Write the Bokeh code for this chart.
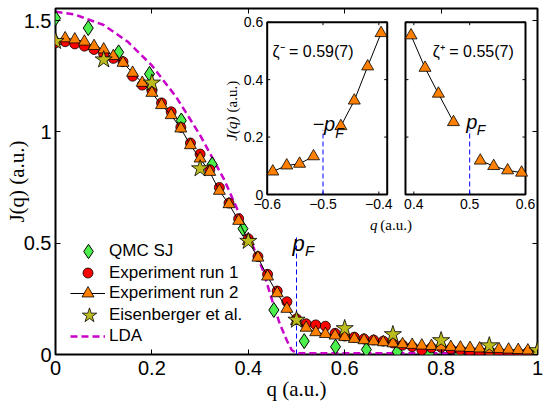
import math
from bokeh.plotting import figure
from bokeh.models import Range1d, LinearAxis, FixedTicker, Legend, LegendItem, Label
from bokeh.embed import file_html
from bokeh.resources import INLINE

# ---------------- main data ----------------
q_exp = [0.00, 0.02, 0.04, 0.06, 0.08, 0.10, 0.12, 0.14, 0.16, 0.18,
         0.20, 0.22, 0.24, 0.26, 0.28, 0.30, 0.32, 0.34, 0.36, 0.38,
         0.40, 0.42, 0.44, 0.46, 0.48, 0.50, 0.52, 0.54, 0.56, 0.58,
         0.60, 0.62, 0.64, 0.66, 0.68, 0.70, 0.72, 0.74, 0.76, 0.78,
         0.80, 0.82, 0.84, 0.86, 0.88, 0.90, 0.92, 0.94, 0.96, 0.98, 1.00]
J_run1 = [1.400, 1.405, 1.395, 1.385, 1.370, 1.350, 1.330, 1.315, 1.250, 1.210,
          1.185, 1.130, 1.090, 1.020, 0.950, 0.900, 0.830, 0.750, 0.680, 0.610,
          0.520, 0.440, 0.360, 0.285, 0.237, 0.160, 0.138, 0.133, 0.127, 0.095,
          0.083, 0.078, 0.070, 0.065, 0.060, 0.052, 0.042, 0.035, 0.020, 0.030,
          0.032, 0.025, 0.020, 0.015, 0.010, 0.015, 0.008, 0.005, 0.008, 0.010, 0.010]
J_run2 = [1.410, 1.420, 1.415, 1.405, 1.385, 1.370, 1.340, 1.310, 1.265, 1.220,
          1.175, 1.120, 1.075, 1.015, 0.940, 0.880, 0.820, 0.735, 0.675, 0.600,
          0.510, 0.435, 0.350, 0.275, 0.205, 0.150, 0.120, 0.100, 0.092, 0.085,
          0.078, 0.070, 0.064, 0.059, 0.055, 0.050, 0.046, 0.043, 0.040, 0.038,
          0.036, 0.034, 0.031, 0.029, 0.027, 0.025, 0.024, 0.022, 0.020, 0.018, 0.016]
q_qmc = [0.000, 0.068, 0.131, 0.195, 0.261, 0.325, 0.389, 0.453,
         0.516, 0.581, 0.645, 0.709, 0.775, 0.838, 0.902]
J_qmc = [1.510, 1.466, 1.357, 1.260, 1.051, 0.854, 0.565, 0.200,
         0.060, 0.035, 0.022, 0.012, 0.005, 0.002, 0.001]
q_eis = [0.00, 0.10, 0.20, 0.30, 0.40, 0.50, 0.60, 0.70, 0.80, 0.90, 1.00]
J_eis = [1.407, 1.324, 1.220, 0.835, 0.509, 0.155, 0.117, 0.090, 0.063, 0.040, 0.018]
q_lda = [0.00, 0.04, 0.10, 0.15, 0.20, 0.25, 0.30, 0.35, 0.39, 0.43,
         0.45, 0.465, 0.48, 0.49, 0.50, 0.60, 0.70, 0.80, 0.90, 1.00]
J_lda = [1.540, 1.527, 1.480, 1.405, 1.298, 1.158, 0.985, 0.785, 0.590, 0.380,
         0.240, 0.140, 0.063, 0.020, 0.006, 0.006, 0.006, 0.006, 0.006, 0.006]
p_F = 0.5
pf_line_top = 0.53

x_ticks = [0, 0.2, 0.4, 0.6, 0.8, 1.0]
x_tick_labels = ["0", "0.2", "0.4", "0.6", "0.8", "1"]
y_ticks = [0, 0.5, 1.0, 1.5]
y_tick_labels = ["0", "0.5", "1", "1.5"]
series_labels = ["QMC SJ", "Experiment run 1", "Experiment run 2", "Eisenberger et al.", "LDA"]

# ---------------- inset data ----------------
qL_a = [-0.590, -0.565, -0.542, -0.517]
JL_a = [0.080, 0.101, 0.107, 0.133]
qL_b = [-0.468, -0.444, -0.420, -0.396]
JL_b = [0.238, 0.327, 0.446, 0.562]
qR_a = [0.395, 0.420, 0.444, 0.471]
JR_a = [0.554, 0.441, 0.351, 0.252]
qR_b = [0.519, 0.543, 0.568, 0.593]
JR_b = [0.118, 0.099, 0.084, 0.076]
inset_pf_top = 0.225
inset_y_ticks = [0, 0.2, 0.4, 0.6]
inset_y_tick_labels = ["0", "0.2", "0.4", "0.6"]
inset_L_ticks = [-0.6, -0.5, -0.4]
inset_L_tick_labels = ["\u22120.6", "\u22120.5", "\u22120.4"]
inset_R_ticks = [0.4, 0.5, 0.6]
inset_R_tick_labels = ["0.4", "0.5", "0.6"]
zeta_minus = "\u03b6\u207b = 0.59(7)"
zeta_plus = "\u03b6\u207a = 0.55(7)"

# ---------------- layout / style ----------------
W, H = 548, 405
BL, BR, BT, BB = 55, 11, 8, 51
X_RANGE = (0.0, 1.0)
Y_RANGE = (0.0, 1.554)
BOX_L = (0.4392, 0.6882)     # inset boxes in main-data units
BOX_R = (0.7261, 0.9751)
BOX_Y = (0.7186, 1.4925)
INSET_XL = (-0.6, -0.385)
INSET_XR = (0.385, 0.6)
INSET_Y = (0.0, 0.6)

ORANGE = "#ff8000"
RED = "#ff0000"
GREEN = "#4cf04c"
OLIVE = "#bcbc1e"
MAG = "#c800c8"
SANS = "Liberation Sans"
SERIF = "Liberation Serif"


def map_range(inner, box, outer):
    s = (inner[1] - inner[0]) / (box[1] - box[0])
    return Range1d(start=inner[0] - (box[0] - outer[0]) * s,
                   end=inner[0] + (outer[1] - box[0]) * s)


p = figure(width=W, height=H, x_range=Range1d(*X_RANGE), y_range=Range1d(*Y_RANGE),
           output_backend="svg", toolbar_location=None,
           min_border_left=BL, min_border_right=BR, min_border_top=BT, min_border_bottom=BB)
p.xgrid.visible = False
p.ygrid.visible = False
p.outline_line_color = "black"
p.outline_line_width = 2
p.background_fill_color = "white"
p.border_fill_color = "white"

p.extra_x_ranges = {"lx": map_range(INSET_XL, BOX_L, X_RANGE),
                    "rx": map_range(INSET_XR, BOX_R, X_RANGE)}
p.extra_y_ranges = {"iy": map_range(INSET_Y, BOX_Y, Y_RANGE)}

xa = p.below[0]
xa.ticker = FixedTicker(ticks=x_ticks)
xa.major_label_overrides = {t: s for t, s in zip(x_ticks, x_tick_labels)}
xa.axis_label = "q (a.u.)"
xa.axis_label_standoff = -1
ya = p.left[0]
ya.ticker = FixedTicker(ticks=y_ticks)
ya.major_label_overrides = {t: s for t, s in zip(y_ticks, y_tick_labels)}
ya.axis_label = "J(q) (a.u.)"
ya.axis_label_standoff = -8
for ax, so in ((xa, 6), (ya, 4)):
    ax.major_label_text_font = SANS
    ax.major_label_text_font_size = "20px"
    ax.major_label_text_color = "black"
    ax.major_label_standoff = so
    ax.major_tick_in = 5
    ax.major_tick_out = 0
    ax.major_tick_line_color = "black"
    ax.minor_tick_line_color = None
    ax.axis_line_color = None
    ax.axis_label_text_font = SERIF
    ax.axis_label_text_font_size = "21px"
    ax.axis_label_text_font_style = "normal"
    ax.axis_label_text_color = "black"

for ticks, side in ((x_ticks, "above"), (y_ticks, "right")):
    ax = LinearAxis(ticker=FixedTicker(ticks=ticks),
                    major_label_overrides={t: "" for t in ticks},
                    major_label_text_font_size="0px", major_label_standoff=0,
                    major_tick_in=5, major_tick_out=0, minor_tick_line_color=None,
                    axis_line_color=None, major_tick_line_color="black")
    p.add_layout(ax, side)

# ---------------- main glyphs ----------------
p.segment(x0=[p_F], y0=[0], x1=[p_F], y1=[pf_line_top], line_color="blue",
          line_width=1, line_dash="5 3")
r_lda = p.line(q_lda, J_lda, line_color=MAG, line_width=2.5, line_dash="7 4")
r_qmc = p.scatter(q_qmc, J_qmc, marker="diamond", size=15, fill_color=GREEN,
                  line_color="black", line_width=1)
r_run1 = p.scatter(q_exp, J_run1, marker="circle", size=10, fill_color=RED,
                   line_color="black", line_width=0.8)
r_run2_line = p.line(q_exp, J_run2, line_color="black", line_width=1)
r_run2 = p.scatter(q_exp, J_run2, marker="triangle", size=12, fill_color=ORANGE,
                   line_color="black", line_width=0.8)
r_eis = p.scatter(q_eis, J_eis, marker="star", size=18, fill_color=OLIVE,
                  line_color="black", line_width=0.8)

# one single-item legend per row, so that rows can sit closer than the glyph box
legend_rows = [[r_qmc], [r_run1], [r_run2_line, r_run2], [r_eis], [r_lda]]
legend_glyph = [(36, 36), (35, 25), (35, 30), (38, 38), (35, 30)]   # (width, height) px
ROW_PITCH = 21.3
LAST_ROW_CENTER = 18.0
for i, (lbl, rends, (gw, gh)) in enumerate(zip(series_labels, legend_rows, legend_glyph)):
    center = LAST_ROW_CENTER + (4 - i) * ROW_PITCH
    lg = Legend(items=[LegendItem(label=lbl, renderers=rends)],
                location=(15, int(round(center - gh / 2))),
                glyph_width=gw, glyph_height=gh, label_standoff=4 - (gw - 35),
                padding=0, margin=0, border_line_alpha=0, background_fill_alpha=0,
                label_text_font=SANS, label_text_font_size="17px", label_height=20,
                label_text_color="black")
    p.add_layout(lg)


def lab(x, y, text, size, font=SANS, style="normal", align="left",
        baseline="alphabetic", angle=0.0, xr="default", yr="default", xo=0, yo=0):
    p.add_layout(Label(x=x, y=y, text=text, text_font=font, text_font_size=f"{size}px",
                       text_font_style=style, text_align=align, text_baseline=baseline,
                       angle=angle, x_range_name=xr, y_range_name=yr,
                       x_offset=xo, y_offset=yo, text_color="black"))


# main p_F label
lab(0.4917, 0.4987, "p", 22, style="italic")
lab(0.5175, 0.467, "F", 15, style="italic")

# ---------------- insets ----------------
frame_w = W - BL - BR
frame_h = H - BT - BB
px_iy = frame_h * (BOX_Y[1] - BOX_Y[0]) / (Y_RANGE[1] - Y_RANGE[0]) / (INSET_Y[1] - INSET_Y[0])
tick_len_y = 3.0 / px_iy

for xr, box, rng, qa, Ja, qb, Jb, ticks, tlabels in (
        ("lx", BOX_L, INSET_XL, qL_a, JL_a, qL_b, JL_b, inset_L_ticks, inset_L_tick_labels),
        ("rx", BOX_R, INSET_XR, qR_a, JR_a, qR_b, JR_b, inset_R_ticks, inset_R_tick_labels)):
    px_ix = frame_w * (box[1] - box[0]) / (X_RANGE[1] - X_RANGE[0]) / (rng[1] - rng[0])
    tick_len_x = 3.0 / px_ix
    p.quad(left=[rng[0]], right=[rng[1]], bottom=[INSET_Y[0]], top=[INSET_Y[1]],
           fill_color=None, line_color="black", line_width=2, x_range_name=xr, y_range_name="iy")
    # ticks (inward)
    p.segment(x0=ticks, y0=[INSET_Y[0]] * len(ticks), x1=ticks,
              y1=[INSET_Y[0] + tick_len_y] * len(ticks), line_color="black", line_width=1,
              x_range_name=xr, y_range_name="iy")
    p.segment(x0=ticks, y0=[INSET_Y[1]] * len(ticks), x1=ticks,
              y1=[INSET_Y[1] - tick_len_y] * len(ticks), line_color="black", line_width=1,
              x_range_name=xr, y_range_name="iy")
    p.segment(x0=[rng[0]] * 4, y0=inset_y_ticks, x1=[rng[0] + tick_len_x] * 4, y1=inset_y_ticks,
              line_color="black", line_width=1, x_range_name=xr, y_range_name="iy")
    p.segment(x0=[rng[1]] * 4, y0=inset_y_ticks, x1=[rng[1] - tick_len_x] * 4, y1=inset_y_ticks,
              line_color="black", line_width=1, x_range_name=xr, y_range_name="iy")
    for t, s in zip(ticks, tlabels):
        lab(t, INSET_Y[0], s, 14, align="center", baseline="top", xr=xr, yr="iy", yo=-4)
    # pF dashed
    pf = -p_F if xr == "lx" else p_F
    p.segment(x0=[pf], y0=[0], x1=[pf], y1=[inset_pf_top], line_color="blue", line_width=1,
              line_dash="5 3", x_range_name=xr, y_range_name="iy")
    for qq, JJ in ((qa, Ja), (qb, Jb)):
        p.line(qq, JJ, line_color="black", line_width=1, x_range_name=xr, y_range_name="iy")
        p.scatter(qq, JJ, marker="triangle", size=12, fill_color=ORANGE, line_color="black",
                  line_width=0.8, x_range_name=xr, y_range_name="iy")

for t, s in zip(inset_y_ticks, inset_y_tick_labels):
    lab(INSET_XL[0], t, s, 14, align="right", baseline="middle", xr="lx", yr="iy", xo=-4)

lab(-0.5905, 0.498, zeta_minus, 16, baseline="middle", xr="lx", yr="iy")
lab(0.434, 0.498, zeta_plus, 16, baseline="middle", xr="rx", yr="iy")
lab(-0.519, 0.246, "\u2212p", 20, style="italic", xr="lx", yr="iy")
lab(-0.478, 0.214, "F", 14, style="italic", xr="lx", yr="iy")
lab(0.494, 0.252, "p", 20, style="italic", xr="rx", yr="iy")
lab(0.5125, 0.226, "F", 14, style="italic", xr="rx", yr="iy")

# inset axis labels (main-data units)
lab(0.668, 0.58, "q", 15, font=SERIF, style="italic", align="right", baseline="middle")
lab(0.674, 0.58, "(a.u.)", 15, font=SERIF, align="left", baseline="middle")
lab(0.367, 1.069, "J(q)", 15, font=SERIF, style="italic", align="right", baseline="middle",
    angle=math.pi / 2)
lab(0.367, 1.087, "(a.u.)", 15, font=SERIF, align="left", baseline="middle", angle=math.pi / 2)

open("out.html", "w").write(file_html(p, INLINE))
